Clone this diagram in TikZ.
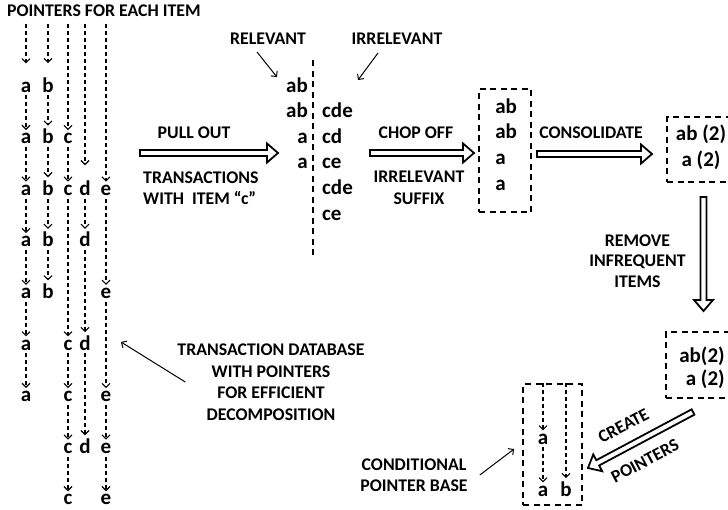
\documentclass[tikz,border=0pt]{standalone}
\usepackage{fontspec}
\setmainfont{Carlito}
\usetikzlibrary{arrows.meta, calc, positioning}

\newcommand\lblfont{\fontsize{17.8}{21.5}\selectfont\bfseries}
\newcommand\itmfont{\fontsize{21}{25.6}\selectfont\bfseries}

\begin{document}
\begin{tikzpicture}[x=1pt, y=-1pt, >={Straight Barb[length=4pt,width=8pt]}]
	\tikzstyle{lbl} = [font=\lblfont, inner sep=0pt, align=center]
	\tikzstyle{itm} = [font=\itmfont, inner sep=3pt, anchor=base]
	\tikzstyle{ptr} = [->, line width=1.1pt, dash pattern=on 4pt off 3pt]
	\tikzstyle{lptr} = [->, line width=1pt]
	\tikzstyle{dbox} = [draw, line width=1.8pt, dash pattern=on 6pt off 4.5pt]
	\tikzstyle{hollow} = [draw, line width=1.8pt, to path={
		($(\tikztostart)!3pt!90:(\tikztotarget)$) --
		($(\tikztotarget)!11pt!(\tikztostart)!3pt!-90:(\tikztostart)$) --
		($(\tikztotarget)!11pt!(\tikztostart)!9.5pt!-90:(\tikztostart)$) --
		(\tikztotarget) --
		($(\tikztotarget)!11pt!(\tikztostart)!9.5pt!90:(\tikztostart)$) --
		($(\tikztotarget)!11pt!(\tikztostart)!3pt!90:(\tikztostart)$) --
		($(\tikztostart)!3pt!-90:(\tikztotarget)$) -- cycle}]

	\useasboundingbox (0,0) rectangle (728,509);
	\clip (0,0) rectangle (728,509);

	% transaction database with pointers
	\node[lbl, anchor=west] (title) at (7,11) {POINTERS FOR EACH ITEM};
	\coordinate (ta) at (26,24);
	\coordinate (tb) at (48,24);
	\coordinate (tc) at (68,24);
	\coordinate (td) at (85,24);
	\coordinate (te) at (106,24);

	\node[itm] (a1) at (26,92) {a};
	\node[itm] (b1) at (48,92) {b};
	\node[itm] (a2) at (26,143.6) {a};
	\node[itm] (b2) at (48,143.6) {b};
	\node[itm] (c2) at (68,143.6) {c};
	\node[itm] (a3) at (26,195.2) {a};
	\node[itm] (b3) at (48,195.2) {b};
	\node[itm] (c3) at (68,195.2) {c};
	\node[itm] (d3) at (85,195.2) {d};
	\node[itm] (e3) at (106,195.2) {e};
	\node[itm] (a4) at (26,246.8) {a};
	\node[itm] (b4) at (48,246.8) {b};
	\node[itm] (d4) at (85,246.8) {d};
	\node[itm] (a5) at (26,298.4) {a};
	\node[itm] (b5) at (48,298.4) {b};
	\node[itm] (e5) at (106,298.4) {e};
	\node[itm] (a6) at (26,350) {a};
	\node[itm] (c6) at (68,350) {c};
	\node[itm] (d6) at (85,350) {d};
	\node[itm] (a7) at (26,401.6) {a};
	\node[itm] (c7) at (68,401.6) {c};
	\node[itm] (e7) at (106,401.6) {e};
	\node[itm] (c8) at (68,453.2) {c};
	\node[itm] (d8) at (85,453.2) {d};
	\node[itm] (e8) at (106,453.2) {e};
	\node[itm] (c9) at (68,504.8) {c};
	\node[itm] (e9) at (106,504.8) {e};

	\draw[ptr, shorten >=15pt] (ta) -- (a1);
	\draw[ptr] (a1) -- (a2);
	\draw[ptr] (a2) -- (a3);
	\draw[ptr] (a3) -- (a4);
	\draw[ptr] (a4) -- (a5);
	\draw[ptr] (a5) -- (a6);
	\draw[ptr] (a6) -- (a7);
	\draw[ptr, shorten >=11pt] (tb) -- (b1);
	\draw[ptr] (b1) -- (b2);
	\draw[ptr] (b2) -- (b3);
	\draw[ptr] (b3) -- (b4);
	\draw[ptr] (b4) -- (b5);
	\draw[ptr] (tc) -- (c2);
	\draw[ptr] (c2) -- (c3);
	\draw[ptr] (c3) -- (c6);
	\draw[ptr] (c6) -- (c7);
	\draw[ptr] (c7) -- (c8);
	\draw[ptr] (c8) -- (c9);
	\draw[ptr, shorten >=12pt] (td) -- (d3);
	\draw[ptr] (d3) -- (d4);
	\draw[ptr] (d4) -- (d6);
	\draw[ptr] (d6) -- (d8);
	\draw[ptr] (te) -- (e3);
	\draw[ptr] (e3) -- (e5);
	\draw[ptr] (e5) -- (e7);
	\draw[ptr] (e7) -- (e8);
	\draw[ptr] (e8) -- (e9);

	\node[lbl] (tdb) at (271,382) {TRANSACTION DATABASE\\WITH POINTERS\\FOR EFFICIENT\\DECOMPOSITION};
	\coordinate (dbtip) at (121,342);
	\draw[lptr] ([xshift=8pt]tdb.west) -- (dbtip);

	% pull out
	\coordinate (pull1) at (140,153);
	\coordinate (pull2) at (278,153);
	\draw[hollow] (pull1) to (pull2);
	\node[lbl] (pullout) at (194,133) {PULL OUT};
	\node[lbl, align=left, anchor=west] (withc) at (143,188) {TRANSACTIONS\\WITH~ ITEM “c”};

	% relevant / irrelevant parts
	\node[lbl] (relevant) at (268,39) {RELEVANT};
	\node[lbl] (irrelevant) at (397,39) {IRRELEVANT};
	\node[itm, anchor=base east] (rel1) at (311,92) {ab};
	\node[itm, anchor=base east] (rel2) at (311,117.6) {ab};
	\node[itm, anchor=base east] (rel3) at (311,143.2) {a};
	\node[itm, anchor=base east] (rel4) at (311,168.8) {a};
	\node[itm, anchor=base west] (irr2) at (319,117.6) {cde};
	\node[itm, anchor=base west] (irr3) at (319,143.2) {cd};
	\node[itm, anchor=base west] (irr4) at (319,168.8) {ce};
	\node[itm, anchor=base west] (irr5) at (319,194.4) {cde};
	\node[itm, anchor=base west] (irr6) at (319,220) {ce};
	\draw[line width=1.5pt, dash pattern=on 6pt off 4.5pt] (313,60) -- (313,257);
	\coordinate (irrtip) at (358,80);
	\draw[lptr] ([xshift=-11pt,yshift=-7pt]relevant.south) -- ([xshift=-6pt,yshift=-3pt]rel1.north west);
	\draw[lptr] ([xshift=-19pt,yshift=-8pt]irrelevant.south) -- (irrtip);

	% chop off
	\coordinate (chop1) at (370,153);
	\coordinate (chop2) at (474,153);
	\draw[hollow] (chop1) to (chop2);
	\node[lbl] (chopoff) at (416,133) {CHOP OFF};
	\node[lbl] (suffix) at (419,188) {IRRELEVANT\\SUFFIX};

	\node[dbox, minimum width=52pt, minimum height=123pt] (box1) at (505,150.5) {};
	\node[itm, align=left, anchor=west] (lst1) at ([xshift=14pt,yshift=6pt]box1.west) {ab\\ab\\a\\a};

	% consolidate
	\coordinate (cons1) at (537,154);
	\coordinate (cons2) at (652,154);
	\draw[hollow] (cons1) to (cons2);
	\node[lbl] (consolidate) at (591,133) {CONSOLIDATE};

	\node[dbox, minimum width=68pt, minimum height=65pt] (box2) at (701,149.5) {};
	\node[itm, align=center, anchor=center] (lst2) at ([yshift=2pt]box2.center) {ab (2)\\a (2)};

	% remove infrequent items
	\coordinate (rem1) at (703.5,197);
	\coordinate (rem2) at (703.5,311);
	\draw[hollow] (rem1) to (rem2);
	\node[lbl, font=\fontsize{17.8}{20.5}\selectfont\bfseries] (remove) at (637.5,261) {REMOVE\\INFREQUENT\\ITEMS};

	\node[dbox, minimum width=67pt, minimum height=66pt] (box3) at (699.5,365) {};
	\node[itm, align=right, anchor=east, font=\fontsize{21}{23.5}\selectfont\bfseries] (lst3) at ([xshift=-6pt,yshift=-3pt]box3.east) {ab(2)\\a (2)};

	% create pointers
	\coordinate (cre1) at (693,412);
	\coordinate (cre2) at (588,468);
	\draw[hollow] (cre1) to (cre2);
	\node[lbl, rotate=28] (create) at (623.5,426) {CREATE};
	\node[lbl, rotate=28] (pointers) at (645,461) {POINTERS};

	% conditional pointer base
	\node[dbox, minimum width=59pt, minimum height=121pt] (box4) at (552.5,444.5) {};
	\node[itm] (ca1) at (543,444) {a};
	\node[itm] (ca2) at (543,496) {a};
	\node[itm] (cb2) at (566,496) {b};
	\draw[ptr] (ca1|-box4.north) -- (ca1);
	\draw[ptr] (ca1) -- (ca2);
	\draw[ptr] (cb2|-box4.north) -- (cb2);

	\node[lbl] (cpb) at (414,475) {CONDITIONAL\\POINTER BASE};
	\draw[lptr] ([xshift=12pt]cpb.east) -- ([xshift=-8pt,yshift=-4.5pt]box4.west);
\end{tikzpicture}
\end{document}
